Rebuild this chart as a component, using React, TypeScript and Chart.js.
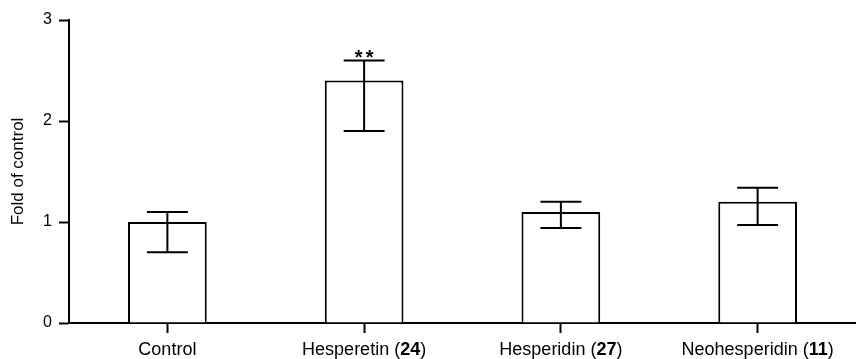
import React, { useEffect, useRef } from "react";
import { Chart, registerables } from "chart.js";

Chart.register(...registerables);

const categories = ["Control", "Hesperetin", "Hesperidin", "Neohesperidin"];
const compoundIds = ["", "24", "27", "11"];
const means = [1.0, 2.4, 1.1, 1.2];
const errUpper = [1.1, 2.6, 1.2, 1.34];
const errLower = [0.7, 1.9, 0.94, 0.97];
const significance = ["", "**", "", ""];
const yTicks = [0, 1, 2, 3];

const FONT = "'Liberation Sans', Arial, Helvetica, sans-serif";
const X_TICK_LEN = 10;
const X_TICK_PAD = 6;
const X_FONT_SIZE = 18;

const fullLabel = (i: number) =>
  compoundIds[i] ? `${categories[i]} (${compoundIds[i]})` : categories[i];

const errorBarPlugin = {
  id: "errorBars",
  afterDatasetsDraw(chart: any) {
    const { ctx } = chart;
    const y = chart.scales.y;
    const meta = chart.getDatasetMeta(0);
    ctx.save();
    ctx.strokeStyle = "#000";
    ctx.lineWidth = 2;
    meta.data.forEach((bar: any, i: number) => {
      const x = bar.x;
      const half = bar.width * 0.26;
      const yu = y.getPixelForValue(errUpper[i]);
      const yl = y.getPixelForValue(errLower[i]);
      ctx.beginPath();
      ctx.moveTo(x, yu);
      ctx.lineTo(x, yl);
      ctx.moveTo(x - half, yu);
      ctx.lineTo(x + half, yu);
      ctx.moveTo(x - half, yl);
      ctx.lineTo(x + half, yl);
      ctx.stroke();
      if (significance[i]) {
        ctx.fillStyle = "#000";
        ctx.font = `bold 20px ${FONT}`;
        ctx.textAlign = "center";
        ctx.textBaseline = "alphabetic";
        try { (ctx as any).letterSpacing = "3px"; } catch (e) {}
        ctx.fillText(significance[i], x + 1.5, yu + 4);
        try { (ctx as any).letterSpacing = "0px"; } catch (e) {}
      }
    });
    ctx.restore();
  },
};

const xLabelPlugin = {
  id: "xLabels",
  afterDraw(chart: any) {
    const { ctx } = chart;
    const xs = chart.scales.x;
    const lineHeight = X_FONT_SIZE * 1.2;
    const yMid = xs.top + X_TICK_LEN + X_TICK_PAD + lineHeight / 2;
    const normal = `${X_FONT_SIZE}px ${FONT}`;
    const bold = `bold ${X_FONT_SIZE}px ${FONT}`;
    ctx.save();
    ctx.fillStyle = "#000";
    ctx.textBaseline = "middle";
    ctx.textAlign = "left";
    categories.forEach((name, i) => {
      const parts: [string, string][] = compoundIds[i]
        ? [[`${name} (`, normal], [compoundIds[i], bold], [")", normal]]
        : [[name, normal]];
      let total = 0;
      parts.forEach(([t, f]) => {
        ctx.font = f;
        total += ctx.measureText(t).width;
      });
      let x = xs.getPixelForValue(i) - total / 2;
      parts.forEach(([t, f]) => {
        ctx.font = f;
        ctx.fillText(t, x, yMid);
        x += ctx.measureText(t).width;
      });
    });
    ctx.restore();
  },
};

export default function App() {
  const canvasRef = useRef<HTMLCanvasElement | null>(null);

  useEffect(() => {
    if (!canvasRef.current) return;
    const chart = new Chart(canvasRef.current, {
      type: "bar",
      data: {
        labels: categories.map((_, i) => fullLabel(i)),
        datasets: [
          {
            data: means,
            backgroundColor: "#ffffff",
            borderColor: "#000000",
            borderWidth: 2,
            barPercentage: 0.4,
            categoryPercentage: 1,
          },
        ],
      },
      options: {
        animation: false,
        responsive: true,
        maintainAspectRatio: false,
        layout: { padding: { top: 20, right: 0, bottom: 0, left: 0 } },
        plugins: {
          legend: { display: false },
          tooltip: { enabled: false },
        },
        scales: {
          x: {
            afterFit: (s: any) => { s.height = 36; },
            grid: {
              display: true,
              drawOnChartArea: false,
              drawTicks: true,
              tickLength: X_TICK_LEN,
              tickColor: "#000",
              tickWidth: 2,
              offset: false,
            },
            border: { display: true, color: "#000", width: 2 },
            ticks: {
              color: "rgba(0,0,0,0)",
              font: { family: FONT, size: X_FONT_SIZE },
              padding: X_TICK_PAD,
              maxRotation: 0,
              autoSkip: false,
            },
          },
          y: {
            min: 0,
            max: 3,
            afterFit: (s: any) => { s.width = 69; },
            afterBuildTicks: (scale: any) => {
              scale.ticks = yTicks.map((v) => ({ value: v }));
            },
            grid: {
              display: true,
              drawOnChartArea: false,
              drawTicks: true,
              tickLength: 10,
              tickColor: "#000",
              tickWidth: 2,
            },
            border: { display: true, color: "#000", width: 2 },
            ticks: {
              color: "#000",
              font: { family: FONT, size: 16 },
              padding: 7,
            },
            title: {
              display: true,
              text: "Fold of control",
              color: "#000",
              font: { family: FONT, size: 17 },
              padding: { top: 8, bottom: 15 },
            },
          },
        },
      },
      plugins: [errorBarPlugin, xLabelPlugin],
    });
    return () => chart.destroy();
  }, []);

  return (
    <div style={{ position: "fixed", left: 0, top: 0, width: 856, height: 359, background: "#fff" }}>
      <canvas ref={canvasRef} />
    </div>
  );
}
